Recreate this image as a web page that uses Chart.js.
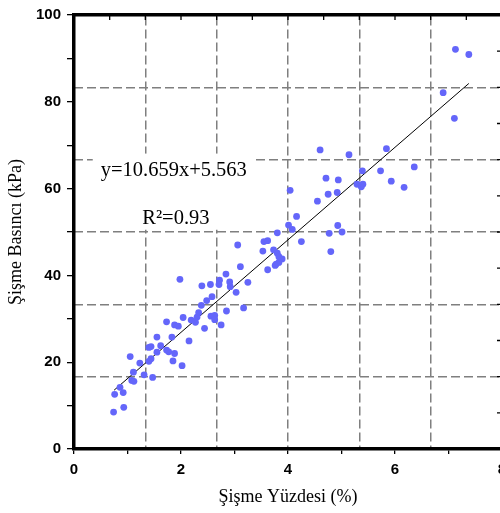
<!DOCTYPE html>
<html lang="tr">
<head>
<meta charset="UTF-8">
<title>Şişme Basıncı - Şişme Yüzdesi</title>
<style>
  html, body { margin: 0; padding: 0; background: #fff; overflow: hidden; }
  #wrap { width: 520px; height: 513px; }
</style>
</head>
<body>
<div id="wrap"><canvas id="chart" width="520" height="513"></canvas></div>
<script src="https://cdn.jsdelivr.net/npm/chart.js"></script>
<script>
// measured swell percentage (%) and swell pressure (kPa)
const swellPct = [
  7.13, 7.38, 6.90, 7.11, 4.60, 5.14, 5.84, 5.39, 5.73, 6.36,
  5.93, 6.17, 4.71, 4.94, 5.29, 5.40, 5.37, 4.75, 4.92, 4.55,
  4.04, 4.16, 4.01, 4.08, 3.80, 4.25, 4.93, 5.01, 4.77, 4.80,
  3.55, 3.62, 3.53, 3.73, 3.80, 3.83, 3.89, 3.78, 3.83, 3.76,
  3.62, 3.06, 3.11, 2.84, 2.91, 2.92, 3.25, 3.03, 2.72, 2.71,
  2.55, 2.39, 1.98, 2.58, 2.48, 2.38, 3.17, 2.85, 2.33, 2.30,
  2.56, 2.63, 2.63, 2.75, 2.19, 2.27, 2.04, 2.44, 1.73, 1.88,
  1.95, 2.15, 1.55, 1.83, 1.62, 1.73, 1.77, 1.44, 1.40, 1.55,
  1.85, 1.88, 2.02, 1.05, 1.44, 1.40, 1.23, 1.11, 1.08, 1.12,
  1.31, 1.47, 0.86, 0.76, 0.92, 0.93, 0.74
];
const swellPressure = [
  92.1, 90.9, 82.1, 76.2, 68.9, 67.8, 69.2, 64.1, 64.1, 65.0,
  61.7, 60.3, 62.4, 62.0, 61.0, 61.0, 60.4, 58.7, 59.1, 57.1,
  59.6, 53.6, 51.6, 50.6, 49.8, 47.8, 51.5, 50.0, 49.7, 45.5,
  47.8, 48.0, 45.6, 45.9, 45.1, 44.3, 43.8, 42.6, 43.0, 42.3,
  41.3, 47.0, 42.0, 40.3, 38.5, 37.4, 38.4, 36.1, 38.9, 37.9,
  37.9, 37.6, 39.1, 35.1, 34.2, 33.1, 32.5, 31.8, 31.4, 30.4,
  30.6, 30.8, 29.8, 28.6, 29.7, 29.2, 30.3, 27.8, 29.3, 28.6,
  28.3, 24.9, 25.8, 25.8, 23.8, 22.8, 22.4, 23.6, 23.4, 22.3,
  20.3, 22.0, 19.2, 21.3, 20.8, 20.2, 19.8, 17.7, 15.8, 15.6,
  17.1, 16.5, 14.2, 12.6, 13.0, 9.6, 8.5
];

// linear fit y = a*x + b
const fitSlope = 10.659;
const fitIntercept = 5.563;
const fitRange = [0.75, 7.38];
const fitLabel = 'y=10.659x+5.563';
const r2Label = 'R²=0.93';

const xTickLabels = [0, 2, 4, 6, 8];
const yTickLabels = [0, 20, 40, 60, 80, 100];

const points = swellPct.map((v, i) => ({ x: v, y: swellPressure[i] }));
const fitLine = fitRange.map(v => ({ x: v, y: fitSlope * v + fitIntercept }));

const gridGray = '#7f7f7f';
const tickFont = { family: '"Liberation Sans", Arial, sans-serif', size: 15, weight: 'bold' };
const titleFont = { family: '"Liberation Serif", "Times New Roman", serif', size: 18 };

// every other tick of the top/right axes gets a dashed grid line
const dashedEveryOther = ctx =>
  (ctx.index % 2 === 0 && ctx.index !== 0 && ctx.index !== 12) ? gridGray : 'rgba(0,0,0,0)';

// small inward ticks on the top and right frame, plus the fit text box
const frameExtras = {
  id: 'frameExtras',
  afterDraw(chart) {
    const { ctx, chartArea, scales } = chart;
    ctx.save();
    ctx.strokeStyle = '#000';
    ctx.lineWidth = 1.3;
    ctx.beginPath();
    scales.x2.ticks.forEach(t => {
      const px = scales.x2.getPixelForValue(t.value);
      ctx.moveTo(px, chartArea.top);
      ctx.lineTo(px, chartArea.top + 5);
    });
    scales.y2.ticks.forEach(t => {
      const py = scales.y2.getPixelForValue(t.value);
      ctx.moveTo(chartArea.right, py);
      ctx.lineTo(chartArea.right - 5, py);
    });
    ctx.stroke();

    ctx.font = '20.5px "Liberation Serif", "Times New Roman", serif';
    const ex = scales.x.getPixelForValue(0.5);
    const ey = scales.y.getPixelForValue(63.0);
    const rx = scales.x.getPixelForValue(1.276);
    const ry = scales.y.getPixelForValue(51.9);
    const w = ctx.measureText(fitLabel).width;
    ctx.fillStyle = '#fff';
    ctx.fillRect(ex - 8, ey - 22, w + 16, ry - ey + 28);
    ctx.fillStyle = '#000';
    ctx.textBaseline = 'alphabetic';
    ctx.fillText(fitLabel, ex, ey);
    ctx.fillText(r2Label, rx, ry);
    ctx.restore();
  }
};

new Chart(document.getElementById('chart'), {
  type: 'scatter',
  data: {
    datasets: [
      {
        data: points,
        backgroundColor: 'rgb(100,102,250)',
        borderWidth: 0,
        pointRadius: 3.4,
        pointHoverRadius: 3.4
      },
      {
        type: 'line',
        data: fitLine,
        borderColor: '#000',
        borderWidth: 1,
        pointRadius: 0,
        fill: false
      }
    ]
  },
  options: {
    responsive: false,
    animation: false,
    events: [],
    layout: { padding: { top: 11, right: 0, left: 0, bottom: 0 } },
    plugins: { legend: { display: false }, tooltip: { enabled: false } },
    scales: {
      x: {
        type: 'linear',
        position: 'bottom',
        min: 0, max: 8,
        ticks: {
          stepSize: 1,
          color: '#000',
          font: tickFont,
          padding: 7,
          maxRotation: 0,
          autoSkip: false,
          callback: v => xTickLabels.includes(v) ? String(v) : ''
        },
        grid: { drawOnChartArea: false, drawTicks: true, tickLength: 5, color: '#000', lineWidth: 1.3 },
        border: { display: true, color: '#000', width: 3.5 },
        title: { display: true, text: 'Şişme Yüzdesi (%)', color: '#000', font: titleFont, padding: { top: 0, bottom: 5 } },
        afterFit: s => { s.height = 64; }
      },
      y: {
        type: 'linear',
        position: 'left',
        min: 0, max: 100,
        ticks: {
          stepSize: 10,
          color: '#000',
          font: tickFont,
          padding: 6,
          autoSkip: false,
          callback: v => yTickLabels.includes(v) ? String(v) : ''
        },
        grid: { drawOnChartArea: false, drawTicks: true, tickLength: 7, color: '#000', lineWidth: 1.3 },
        border: { display: true, color: '#000', width: 3.5 },
        title: { display: true, text: 'Şişme Basıncı (kPa)', color: '#000', font: titleFont, padding: { top: 5, bottom: 0 } },
        afterFit: s => { s.width = 74; }
      },
      x2: {
        type: 'linear',
        position: 'top',
        min: 0, max: 8,
        ticks: { display: false, stepSize: 8 / 12 },
        grid: { drawTicks: false, color: dashedEveryOther, lineWidth: 1.5 },
        border: { display: true, color: '#000', width: 3.5, dash: [9, 4] },
        afterFit: s => { s.height = 0; }
      },
      y2: {
        type: 'linear',
        position: 'right',
        min: 0, max: 100,
        ticks: { display: false, stepSize: 100 / 12 },
        grid: { drawTicks: false, color: dashedEveryOther, lineWidth: 1.5 },
        border: { display: true, color: '#000', width: 3.5, dash: [9, 4] },
        afterFit: s => { s.width = 18; }
      }
    }
  },
  plugins: [frameExtras]
});
</script>
</body>
</html>
